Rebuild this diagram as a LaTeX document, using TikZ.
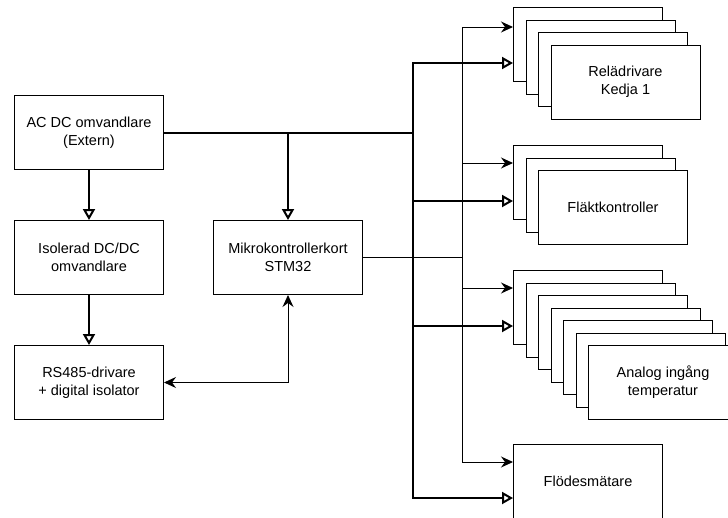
\documentclass[tikz,border=0pt]{standalone}
\usepackage{fontspec}
\setmainfont{Liberation Sans}
\usetikzlibrary{arrows.meta}
\begin{document}
\begin{tikzpicture}[x=1pt,y=-1pt,
  box/.style={draw, line width=1pt, fill=white, minimum width=149pt, minimum height=74pt,
    inner sep=0pt, align=center, anchor=north west, font=\fontsize{14.5}{18}\selectfont},
  heavyline/.style={line width=2pt},
  heavy/.style={line width=2pt, -{Triangle[open, length=11pt, width=12pt, line width=2pt]}},
  lightline/.style={line width=1pt},
  light/.style={line width=1pt, -{Stealth[length=12pt, width=11pt, inset=4pt]}},
  both/.style={line width=1pt, {Stealth[length=12pt, width=11pt, inset=4pt]}-{Stealth[length=12pt, width=11pt, inset=4pt]}}
]
\useasboundingbox (0,0) rectangle (728,517);
\clip (0,0) rectangle (728,517);

% left column
\node[box] (ac) at (14,95) {AC DC omvandlare\\(Extern)};
\node[box] (iso) at (14,220) {Isolerad DC/DC\\omvandlare};
\node[box] (rs) at (14,345) {RS485-drivare\\+ digital isolator};
\node[box] (mk) at (213,220) {Mikrokontrollerkort\\STM32};

% relay stack
\node[box] (r0) at (513,7) {};
\node[box] (r1) at (525.5,19.5) {};
\node[box] (r2) at (538,32) {};
\node[box] (r3) at (550.5,44.5) {Relädrivare\\Kedja 1};

% fan stack
\node[box] (f0) at (513,145) {};
\node[box] (f1) at (525.5,157.5) {};
\node[box] (f2) at (538,170) {Fläktkontroller};

% analog stack
\node[box] (a0) at (513,270) {};
\node[box] (a1) at (525.5,282.5) {};
\node[box] (a2) at (538,295) {};
\node[box] (a3) at (550.5,307.5) {};
\node[box] (a4) at (563,320) {};
\node[box] (a5) at (575.5,332.5) {};
\node[box] (a6) at (588,345) {Analog ingång\\temperatur};

% flow meter
\node[box] (fl) at (513,444) {Flödesmätare};

% bus junctions
\coordinate (hb) at (413,132.5);
\coordinate (tb) at (462,257.5);

% power
\draw[heavyline] (ac.east) -- (hb);
\draw[heavy] (ac.south) -- (iso.north);
\draw[heavy] (iso.south) -- (rs.north);
\draw[heavy] (ac.east -| mk.north) -- (mk.north);

% communication
\draw[both] (rs.east) -| (mk.south);
\draw[lightline] (mk.east) -- (tb);

% thin bus arrows
\draw[light] (tb) |- (r0.west |- 0,27);
\draw[light] (tb) |- (f0.west |- 0,163);
\draw[light] (tb) |- (a0.west |- 0,288);
\draw[light] (tb) |- (fl.west |- 0,462);

% heavy bus arrows
\draw[heavy] (hb) |- (r0.west |- 0,63);
\draw[heavy] (hb |- 0,201) -- (f0.west |- 0,201);
\draw[heavy] (hb |- 0,326) -- (a0.west |- 0,326);
\draw[heavy] (hb) |- (fl.west |- 0,498);
\end{tikzpicture}
\end{document}
